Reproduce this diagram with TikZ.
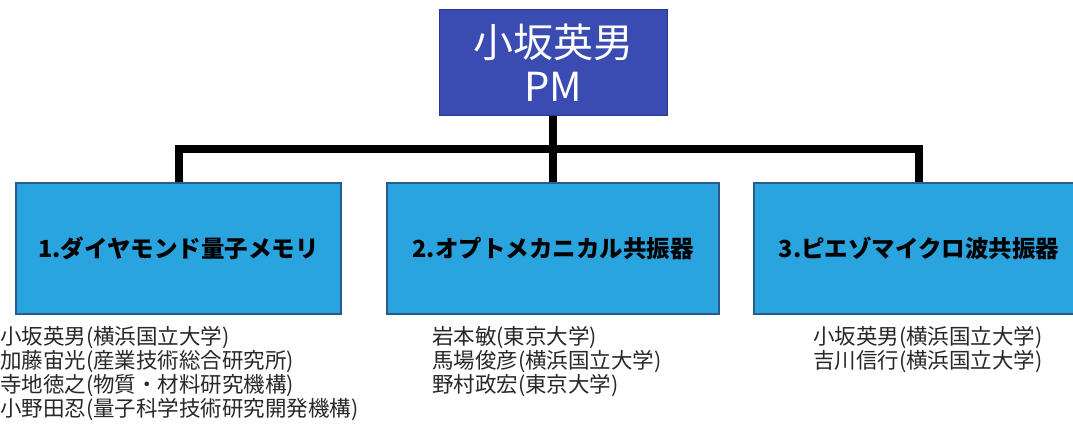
\documentclass[tikz,border=0pt]{standalone}
\usepackage{fontspec}
\newfontfamily\jp{Noto Sans CJK JP}
\definecolor{pmblue}{RGB}{58,76,178}
\definecolor{pmedge}{RGB}{40,55,140}
\definecolor{boxblue}{RGB}{42,164,222}
\definecolor{boxedge}{RGB}{40,90,140}
\definecolor{txtgray}{RGB}{40,40,40}
\begin{document}
\begin{tikzpicture}[x=1pt,y=-1pt,
  pmbox/.style={draw=pmedge,line width=1pt,fill=pmblue,text=white,minimum width=228pt,minimum height=106pt,inner sep=0pt,align=center,font=\jp\fontsize{40}{44}\selectfont},
  groupbox/.style={draw=boxedge,line width=1.2pt,fill=boxblue,text=black,minimum height=131pt,inner sep=0pt,font=\jp\bfseries\fontsize{23.5}{26}\selectfont},
  members/.style={anchor=north west,inner sep=0pt,align=left,text=txtgray,font=\jp\fontsize{21.5}{24}\selectfont},
  conn/.style={line width=8pt,black,line join=miter}]
\clip (0,0) rectangle (1073,427);
\fill[white] (0,0) rectangle (1073,427);
\node[pmbox] (pm) at (553,63) {小坂英男\\PM};
\node[groupbox,minimum width=325pt] (c1) at (178.5,248.5) {\raisebox{-3pt}{1.ダイヤモンド量子メモリ}};
\node[groupbox,minimum width=332pt] (c2) at (553,248.5) {\raisebox{-3pt}{2.オプトメカニカル共振器}};
\node[groupbox,minimum width=330pt] (c3) at (919,248.5) {\raisebox{-3pt}{3.ピエゾマイクロ波共振器}};
\coordinate (j) at (553,149);
\draw[conn] (pm.south) -- (c2.north);
\draw[conn] (c1.north) |- (j) -| (c3.north);
\node[members] (m1) at (0,326) {小坂英男(横浜国立大学)\\加藤宙光(産業技術総合研究所)\\寺地徳之(物質・材料研究機構)\\小野田忍(量子科学技術研究開発機構)};
\node[members] (m2) at (432,326) {岩本敏(東京大学)\\馬場俊彦(横浜国立大学)\\野村政宏(東京大学)};
\node[members] (m3) at (813,326) {小坂英男(横浜国立大学)\\吉川信行(横浜国立大学)};
\end{tikzpicture}
\end{document}
